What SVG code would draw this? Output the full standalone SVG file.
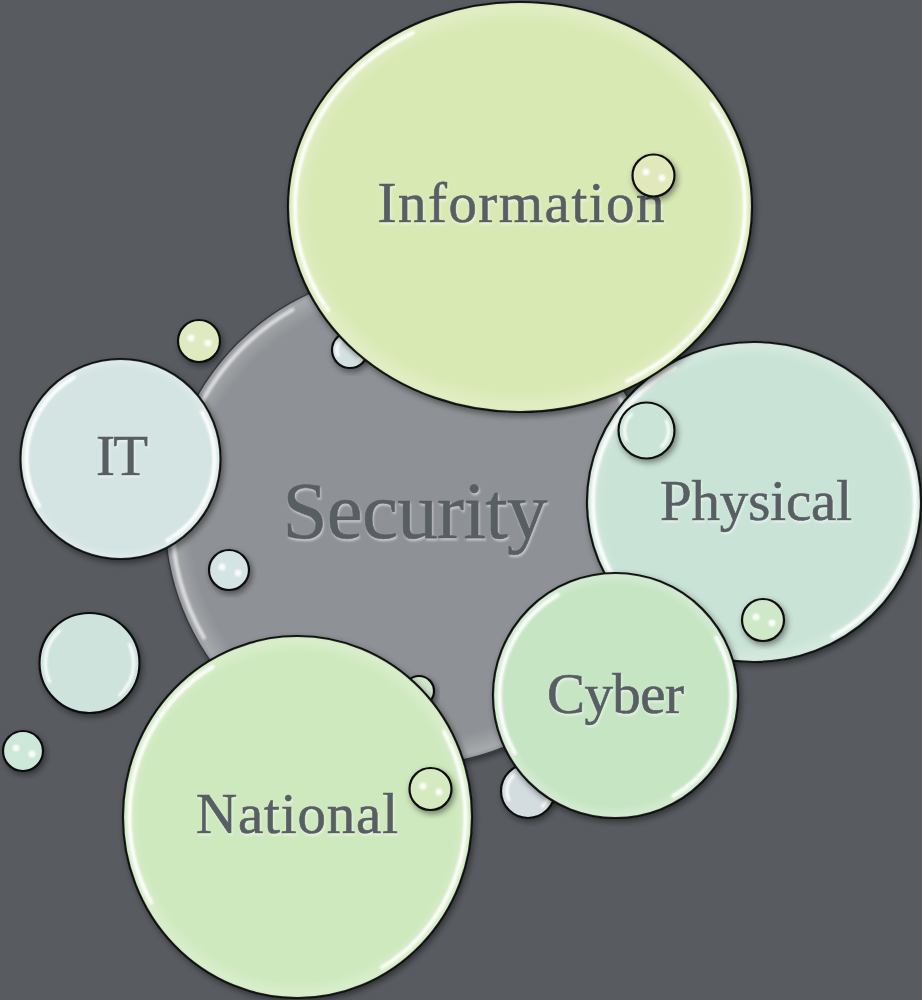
<svg xmlns="http://www.w3.org/2000/svg" width="922" height="1000" viewBox="0 0 922 1000">
<defs>
<filter id="sh" x="-20%" y="-20%" width="140%" height="140%"><feDropShadow dx="2" dy="3" stdDeviation="3" flood-color="#000" flood-opacity="0.45"/></filter>
<filter id="bl" x="-20%" y="-20%" width="140%" height="140%"><feGaussianBlur stdDeviation="1.1"/></filter>
<filter id="bl2" x="-50%" y="-50%" width="200%" height="200%"><feGaussianBlur stdDeviation="0.9"/></filter>
<filter id="ts" x="-10%" y="-20%" width="120%" height="140%"><feDropShadow dx="1" dy="2" stdDeviation="1.2" flood-color="#ffffff" flood-opacity="0.5"/></filter>
<radialGradient id="rim"><stop offset="0.9" stop-color="#fff" stop-opacity="0"/><stop offset="0.98" stop-color="#fff" stop-opacity="0.22"/><stop offset="1" stop-color="#fff" stop-opacity="0.05"/></radialGradient>
</defs>
<style>
.b{stroke:#111;stroke-width:2.2;filter:url(#sh)}
.rim{fill:url(#rim);stroke:none}
.hl{fill:none;stroke:#fff;stroke-width:4;stroke-linecap:round;stroke-dasharray:25 25;stroke-dashoffset:8.3;opacity:.95;filter:url(#bl)}
.hs{fill:none;stroke:#fff;stroke-width:3;stroke-linecap:round;stroke-dasharray:20 30;stroke-dashoffset:7;opacity:.9;filter:url(#bl2)}
.dot{fill:#fff;opacity:.9;filter:url(#bl2)}
.t{font-family:"Liberation Serif","Times New Roman",serif;font-size:57px;fill:#595e64;stroke:#595e64;stroke-width:0.7;text-anchor:middle;filter:url(#ts)}
</style>
<rect width="922" height="1000" fill="#585c61"/>

<g id="security">
<circle cx="412" cy="518" r="247" fill="#8e9195" stroke="#33363a" stroke-width="1.5" filter="url(#sh)"/>
<circle cx="412" cy="518" r="247" class="rim"/>
<circle cx="412" cy="518" r="240" pathLength="100" class="hl" style="opacity:.6"/>
<text x="415" y="538" class="t" style="font-size:81px" textLength="265">Security</text>
</g>

<g id="bubble-behind-info">
<circle cx="350" cy="350" r="18" fill="#d4e1e3" class="b"/>
<circle cx="350" cy="350" r="13" pathLength="100" class="hs"/>
</g>
<g id="bubble-behind-national">
<circle cx="419" cy="691" r="15" fill="#cfe6cc" class="b"/>
</g>
<g id="bubble-behind-cyber">
<circle cx="528" cy="791" r="27" fill="#d3dcdf" class="b"/>
<circle cx="528" cy="791" r="21" pathLength="100" class="hs"/>
</g>

<g id="physical">
<ellipse cx="754" cy="502" rx="167" ry="160" fill="#c9e3d6" class="b"/>
<ellipse cx="754" cy="502" rx="167" ry="160" class="rim"/>
<ellipse cx="754" cy="502" rx="161" ry="154" pathLength="100" class="hl"/>
<text x="756" y="520" class="t" textLength="192">Physical</text>
</g>

<g id="information">
<ellipse cx="520" cy="207" rx="232" ry="205" fill="#d9e9b4" class="b"/>
<ellipse cx="520" cy="207" rx="232" ry="205" class="rim"/>
<ellipse cx="520" cy="207" rx="225" ry="198" pathLength="100" class="hl"/>
<text x="521" y="222" class="t" textLength="287">Information</text>
</g>

<g id="it">
<circle cx="120.5" cy="459" r="100" fill="#d3e4e2" class="b"/>
<circle cx="120.5" cy="459" r="100" class="rim"/>
<circle cx="120.5" cy="459" r="94" pathLength="100" class="hl"/>
<text x="122" y="475" class="t" textLength="52">IT</text>
</g>

<g id="cyber">
<circle cx="615.5" cy="695.5" r="122.5" fill="#c6e5c3" class="b"/>
<circle cx="615.5" cy="695.5" r="122.5" class="rim"/>
<circle cx="615.5" cy="695.5" r="116" pathLength="100" class="hl"/>
<text x="615.5" y="713" class="t" textLength="137">Cyber</text>
</g>

<g id="national">
<ellipse cx="297.5" cy="817" rx="174.5" ry="181" fill="#cee9bd" class="b"/>
<ellipse cx="297.5" cy="817" rx="174.5" ry="181" class="rim"/>
<ellipse cx="297.5" cy="817" rx="168" ry="174" pathLength="100" class="hl"/>
<text x="297" y="833" class="t" textLength="202">National</text>
</g>

<g id="bubble-it-top">
<circle cx="199" cy="341" r="21" fill="#dfeac0" class="b"/>
<circle cx="191" cy="338" r="3.5" class="dot"/><circle cx="208" cy="343" r="3.5" class="dot"/>
</g>
<g id="bubble-security-left">
<circle cx="229" cy="570" r="20" fill="#d4e3e4" class="b"/>
<circle cx="222" cy="567" r="3.5" class="dot"/><circle cx="238" cy="573" r="3.5" class="dot"/>
</g>
<g id="bubble-left-mid">
<circle cx="89.5" cy="663" r="50" fill="#cde3dc" class="b"/>
<circle cx="89.5" cy="663" r="44" pathLength="100" class="hs"/>
</g>
<g id="bubble-left-bottom">
<circle cx="23" cy="751" r="20" fill="#cde7d8" class="b"/>
<circle cx="16" cy="748" r="3.5" class="dot"/><circle cx="32" cy="754" r="3.5" class="dot"/>
</g>
<g id="bubble-physical-top">
<circle cx="646.5" cy="430.5" r="28" fill="#cae5d8" class="b"/>
<circle cx="646.5" cy="430.5" r="22" pathLength="100" class="hs"/>
</g>
<g id="bubble-physical-bottom">
<circle cx="763" cy="620" r="21" fill="#cfe8c8" class="b"/>
<circle cx="756" cy="617" r="3.5" class="dot"/><circle cx="772" cy="623" r="3.5" class="dot"/>
</g>
<g id="bubble-national">
<circle cx="430.5" cy="789" r="21" fill="#d6eabf" class="b"/>
<circle cx="423" cy="786" r="3.5" class="dot"/><circle cx="439" cy="792" r="3.5" class="dot"/>
</g>
<g id="bubble-information">
<circle cx="653.5" cy="175.5" r="21" fill="#e6ecc0" fill-opacity="0.9" class="b"/>
<circle cx="646" cy="172" r="3.5" class="dot"/><circle cx="662" cy="178" r="3.5" class="dot"/>
</g>
</svg>
